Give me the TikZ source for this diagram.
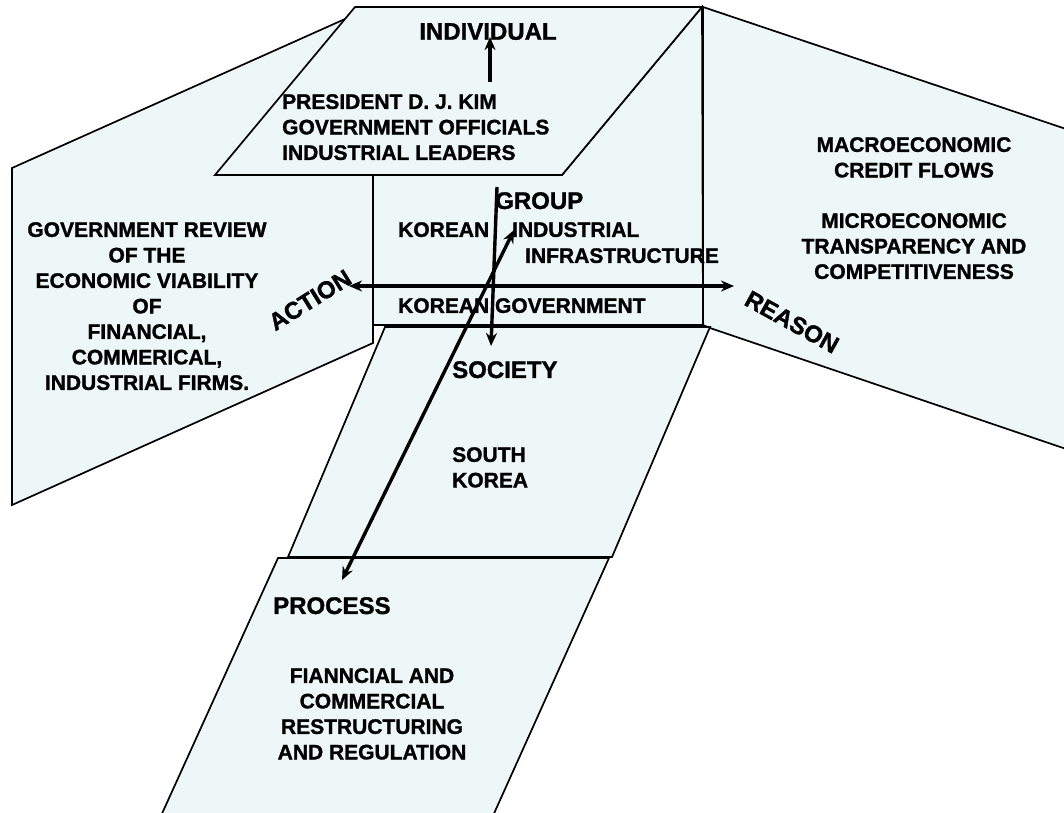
\documentclass[tikz,border=0pt]{standalone}
\usepackage{fontspec}
\setmainfont{Liberation Sans}[BoldFeatures={FakeBold=1.3}]
\usetikzlibrary{arrows.meta}
\definecolor{panelfill}{RGB}{238,247,247}
\tikzset{
  panel/.style={draw=black, line width=1.7pt, fill=panelfill, line join=miter},
  axis/.style={line width=3.4pt, -{Stealth[length=13pt,width=11pt]}},
  axisboth/.style={line width=3.4pt, {Stealth[length=13pt,width=11pt]}-{Stealth[length=13pt,width=11pt]}},
  body/.style={font=\fontsize{21}{25.5}\selectfont\bfseries, inner sep=0pt},
  head/.style={font=\fontsize{24}{28}\selectfont\bfseries, inner sep=0pt}
}

\begin{document}
\begin{tikzpicture}[x=1pt, y=-1pt]
    \useasboundingbox (0,0) rectangle (1064,812);

    % Draw the side panels
    \draw[panel] (12,168) -- (345,19) -- (373,175) -- (373,343) -- (12,505) -- cycle;
    \draw[panel] (703,7) -- (1075,132) -- (1075,452) -- (710,328) -- (703,325) -- cycle;

    % Draw the central box and the planes
    \draw[panel] (373,175) -- (562,175) -- (702,7) -- (703,325) -- (373,325) -- cycle;
    \draw[panel] (355,7) -- (702,7) -- (562,175) -- (215,175) -- cycle;
    \draw[panel] (385,327) -- (710,327) -- (612,557) -- (288,557) -- cycle;
    \draw[panel] (278,558) -- (609,558) -- (492,818) -- (160,818) -- cycle;

    % Draw the axes
    \coordinate (ind-tail) at (490,82);
    \coordinate (ind-tip) at (490,37);
    \draw[axis] (ind-tail) -- (ind-tip);
    \coordinate (grp-top) at (497,187);
    \coordinate (soc-tip) at (491,346);
    \draw[axis] (grp-top) -- (soc-tip);
    \coordinate (act-tip) at (349,286);
    \coordinate (rea-tip) at (734,286);
    \draw[axisboth] (act-tip) -- (rea-tip);
    \coordinate (proc-tip) at (342,580);
    \coordinate (infra-tip) at (514,230);
    \draw[axisboth] (proc-tip) -- (infra-tip);

    % Add labels
    \node[head, anchor=north] (individual) at (488,23) {INDIVIDUAL};
    \node[body, anchor=north west, align=left] (leaders) at (282,94) {PRESIDENT D. J. KIM\\GOVERNMENT OFFICIALS\\INDUSTRIAL LEADERS};
    \node[body, anchor=north, align=center] (review) at (147,222) {GOVERNMENT REVIEW\\OF THE\\ECONOMIC VIABILITY\\OF\\FINANCIAL,\\COMMERICAL,\\INDUSTRIAL FIRMS.};
    \node[head, rotate=32] (action) at (310,300) {ACTION};
    \node[head, rotate=-29] (reason) at (792,322) {REASON};
    \node[body, anchor=north, align=center] (macro) at (914,137) {MACROECONOMIC\\CREDIT FLOWS};
    \node[body, anchor=north, align=center] (micro) at (914,213) {MICROECONOMIC\\TRANSPARENCY AND\\COMPETITIVENESS};
    \node[head, anchor=north west] (group) at (495,192) {GROUP};
    \node[body, anchor=north west] (korean) at (398,222) {KOREAN};
    \node[body, anchor=north west] (industrial) at (512,222) {INDUSTRIAL};
    \node[body, anchor=north west] (infra) at (525,248) {INFRASTRUCTURE};
    \node[body, anchor=north west] (government) at (398,298) {KOREAN GOVERNMENT};
    \node[head, anchor=north west] (society) at (452,361) {SOCIETY};
    \node[body, anchor=north west, align=left] (skorea) at (452,447) {SOUTH\\KOREA};
    \node[head, anchor=north west] (process) at (273,597) {PROCESS};
    \node[body, anchor=north, align=center] (restructuring) at (372,668) {FIANNCIAL AND\\COMMERCIAL\\RESTRUCTURING\\AND REGULATION};
\end{tikzpicture}
\end{document}
